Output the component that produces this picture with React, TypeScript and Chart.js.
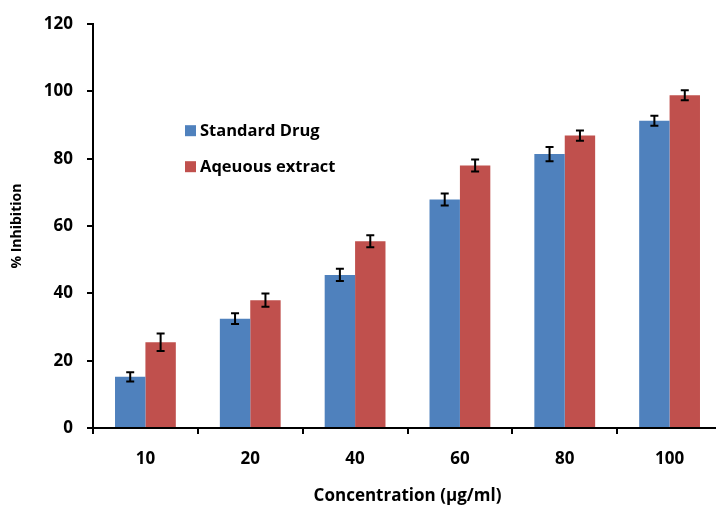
import React, { useEffect, useRef } from "react";
import { Chart, registerables } from "chart.js";

Chart.register(...registerables);

const categories = ["10", "20", "40", "60", "80", "100"];
const standardDrug = [15.2, 32.5, 45.5, 67.9, 81.4, 91.3];
const standardDrugErr = [1.4, 1.6, 1.8, 1.8, 2.1, 1.5];
const aqueousExtract = [25.5, 38.0, 55.5, 78.0, 86.9, 98.9];
const aqueousExtractErr = [2.6, 2.0, 1.8, 1.8, 1.5, 1.5];
const seriesLabels = ["Standard Drug", "Aqeuous extract"];
const seriesColors = ["#4F81BD", "#C0504D"];
const yMin = 0;
const yMax = 120;
const yStep = 20;
const xTitle = "Concentration (µg/ml)";
const yTitle = "% Inhibition";

const FONT = "'Open Sans'";

const errorBarPlugin = {
  id: "errorBars",
  afterDatasetsDraw(chart: any) {
    const ctx = chart.ctx;
    const yScale = chart.scales.y;
    chart.data.datasets.forEach((ds: any, i: number) => {
      const meta = chart.getDatasetMeta(i);
      const errs: number[] = ds.errors || [];
      meta.data.forEach((bar: any, j: number) => {
        const v = ds.data[j];
        const e = errs[j] || 0;
        const yTop = yScale.getPixelForValue(v + e);
        const yBot = yScale.getPixelForValue(v - e);
        const x = bar.x;
        const cap = 4;
        ctx.save();
        ctx.strokeStyle = "#000";
        ctx.lineWidth = 2;
        ctx.beginPath();
        ctx.moveTo(x, yTop);
        ctx.lineTo(x, yBot);
        ctx.moveTo(x - cap, yTop);
        ctx.lineTo(x + cap, yTop);
        ctx.moveTo(x - cap, yBot);
        ctx.lineTo(x + cap, yBot);
        ctx.stroke();
        ctx.restore();
      });
    });
  },
};

const legendPlugin = {
  id: "insideLegend",
  afterDraw(chart: any) {
    const ctx = chart.ctx;
    const area = chart.chartArea;
    const x0 = area.left + 92;
    const y0 = area.top + 106;
    const rowGap = 36;
    ctx.save();
    ctx.font = `bold 16.5px ${FONT}`;
    ctx.textBaseline = "middle";
    ctx.textAlign = "left";
    chart.data.datasets.forEach((ds: any, i: number) => {
      const y = y0 + i * rowGap;
      ctx.fillStyle = ds.backgroundColor;
      ctx.fillRect(x0, y - 5, 11, 11);
      ctx.fillStyle = "#000";
      ctx.fillText(ds.label, x0 + 15, y + 1);
    });
    ctx.restore();
  },
};

export default function App() {
  const canvasRef = useRef<HTMLCanvasElement | null>(null);

  useEffect(() => {
    document.body.style.margin = "0";
    const canvas = canvasRef.current;
    if (!canvas) return;
    const chart = new Chart(canvas, {
      type: "bar",
      data: {
        labels: categories,
        datasets: [
          {
            label: seriesLabels[0],
            data: standardDrug,
            errors: standardDrugErr,
            backgroundColor: seriesColors[0],
            borderWidth: 0,
          } as any,
          {
            label: seriesLabels[1],
            data: aqueousExtract,
            errors: aqueousExtractErr,
            backgroundColor: seriesColors[1],
            borderWidth: 0,
          } as any,
        ],
      },
      options: {
        responsive: false,
        animation: false,
        layout: { padding: { top: 22, right: 0, left: 0, bottom: 0 } },
        datasets: { bar: { categoryPercentage: 0.58, barPercentage: 1.0 } },
        plugins: {
          legend: { display: false },
          tooltip: { enabled: false },
        },
        scales: {
          x: {
            offset: true,
            grid: {
              offset: true,
              drawOnChartArea: false,
              drawTicks: true,
              tickLength: 6,
              color: "#000",
              lineWidth: 2,
            },
            border: { display: true, color: "#000", width: 2 },
            ticks: {
              color: "#000",
              font: { family: FONT, size: 17, weight: "bold" },
              padding: 15,
            },
            title: {
              display: true,
              text: xTitle,
              color: "#000",
              font: { family: FONT, size: 17, weight: "bold" },
              padding: { top: 0, bottom: 0 },
            },
            afterFit(scale: any) {
              scale.height = 78;
            },
          },
          y: {
            min: yMin,
            max: yMax,
            ticks: {
              stepSize: yStep,
              color: "#000",
              font: { family: FONT, size: 17, weight: "bold" },
              padding: 14,
            },
            grid: {
              drawOnChartArea: false,
              drawTicks: true,
              tickLength: 6,
              color: "#000",
              lineWidth: 2,
            },
            border: { display: true, color: "#000", width: 2 },
            title: {
              display: true,
              text: yTitle,
              color: "#000",
              font: { family: FONT, size: 14, weight: "bold" },
              padding: { top: 9, bottom: 0 },
            },
            afterFit(scale: any) {
              scale.width = 93;
            },
          },
        },
      } as any,
      plugins: [errorBarPlugin, legendPlugin],
    });
    return () => chart.destroy();
  }, []);

  return (
    <div style={{ width: 716, height: 506, overflow: "hidden" }}>
      <canvas ref={canvasRef} width={722} height={506} style={{ display: "block" }} />
    </div>
  );
}
